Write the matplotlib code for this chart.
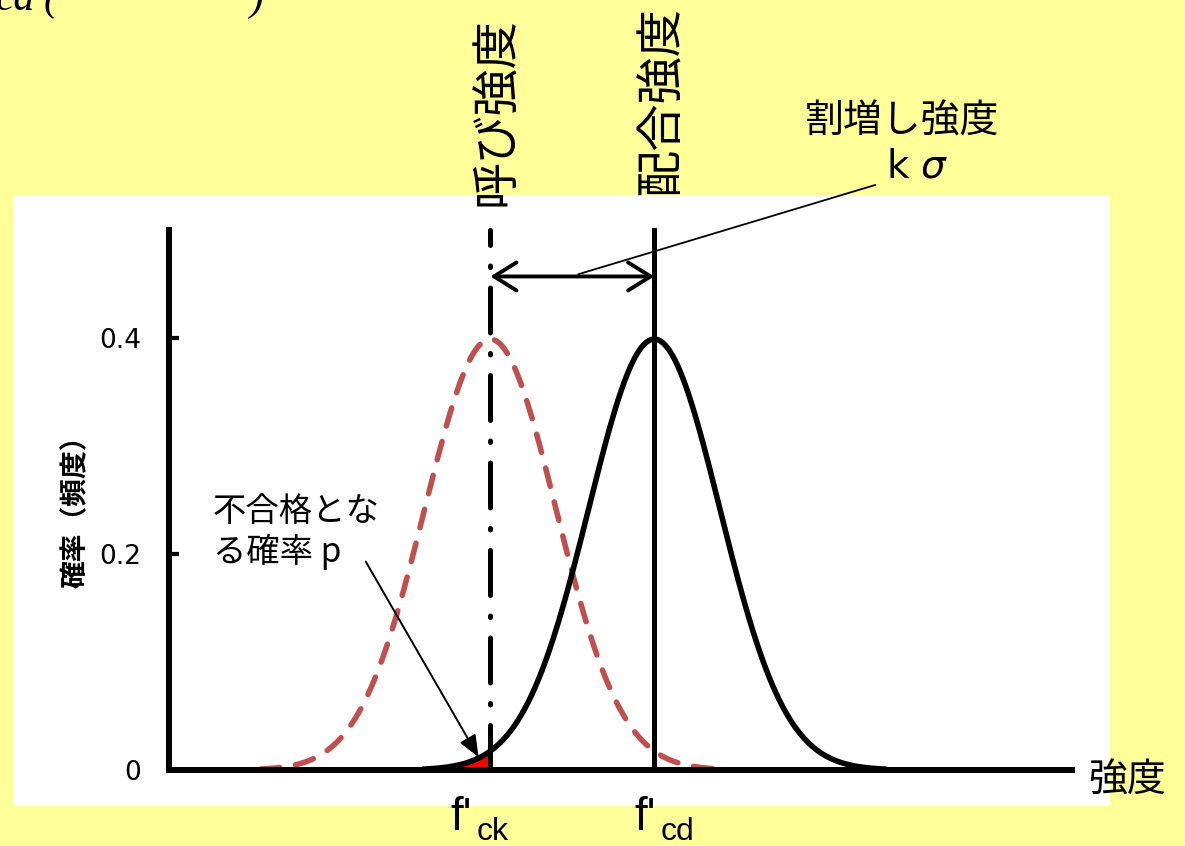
import numpy as np
import matplotlib
matplotlib.use("Agg")
import matplotlib.pyplot as plt
from matplotlib.patches import Rectangle

# ---- data ----
mean_nominal = 0.0        # 呼び強度 f'ck (in units of sigma)
k_factor = 2.5            # 割増し強度 kσ
sigma = 1.0
curve_halfwidth = 3.5     # curves drawn to ±3.5σ
y_ticks = [0.0, 0.2, 0.4]
y_tick_labels = ["0", "0.2", "0.4"]
x_limits = [-4.9, 8.87]
y_limits = [0.0, 0.5]
mean_design = mean_nominal + k_factor * sigma   # 配合強度 f'cd
arrow_level = 0.457

W, H = 1185, 846
YELLOW = "#FFFF99"
RED = "#C0504D"
JP = ["Noto Sans CJK JP", "DejaVu Sans"]
plt.rcParams["font.family"] = JP

fig = plt.figure(figsize=(W / 100, H / 100), dpi=100, facecolor=YELLOW)

def fx(px):
    return px / W

def fy(py):
    return 1 - py / H

# white panel
fig.patches.append(Rectangle((fx(13), fy(806)), fx(1110) - fx(13), fy(195) - fy(806),
                             transform=fig.transFigure, facecolor="white",
                             edgecolor="none", zorder=-10))

ax = fig.add_axes([fx(169), fy(770), fx(1072) - fx(169), fy(230) - fy(770)])
ax.set_zorder(1)
ax.patch.set_visible(False)
ax.set_xlim(*x_limits)
ax.set_ylim(*y_limits)

def pdf(x, mu):
    return np.exp(-0.5 * ((x - mu) / sigma) ** 2) / (sigma * np.sqrt(2 * np.pi))

x_red = np.linspace(mean_nominal - curve_halfwidth * sigma, mean_nominal + curve_halfwidth * sigma, 400)
x_blk = np.linspace(mean_design - curve_halfwidth * sigma, mean_design + curve_halfwidth * sigma, 400)

ax.plot(x_red, pdf(x_red, mean_nominal), color=RED, lw=4.0, ls=(0, (3.4, 2.9)),
        dash_capstyle="round", zorder=3)
ax.plot(x_blk, pdf(x_blk, mean_design), color="black", lw=4.0, zorder=4)

# failure probability region
x_fill = x_blk[x_blk <= mean_nominal]
ax.fill_between(x_fill, 0, pdf(x_fill, mean_design), color="red", lw=0, zorder=3.5)

# vertical reference lines
ax.plot([mean_nominal, mean_nominal], y_limits, color="black", lw=3.6,
        ls=(0, (9.0, 4.1, 0.3, 4.1)), dash_capstyle="round", zorder=5, clip_on=False)
ax.plot([mean_design, mean_design], y_limits, color="black", lw=3.6, zorder=5, clip_on=False)

# double arrow kσ
ax.annotate("", xy=(mean_nominal, arrow_level), xytext=(mean_design, arrow_level),
            arrowprops=dict(arrowstyle="<->,head_length=0.45,head_width=0.28",
                            lw=2.8, color="black", mutation_scale=36,
                            shrinkA=0, shrinkB=0), zorder=6)
# leader line to 割増し強度
ax.annotate("", xy=(1.34, arrow_level + 0.002), xytext=(5.87, 0.5417),
            xycoords="data", textcoords="data", annotation_clip=False,
            arrowprops=dict(arrowstyle="-", lw=1.3, color="black",
                            shrinkA=0, shrinkB=0), zorder=6)
# arrow to p
ax.annotate("", xy=(mean_nominal - 0.18, 0.012), xytext=(mean_nominal - 1.9, 0.193),
            arrowprops=dict(arrowstyle="-|>,head_length=0.6,head_width=0.25",
                            lw=1.4, color="black", mutation_scale=22,
                            shrinkA=0, shrinkB=0), zorder=6)

# spines & ticks
for s in ["top", "right"]:
    ax.spines[s].set_visible(False)
for s in ["left", "bottom"]:
    ax.spines[s].set_linewidth(4.3)
    ax.spines[s].set_zorder(7)
ax.set_xticks([])
ax.set_yticks(y_ticks)
ax.set_yticklabels(y_tick_labels, fontsize=19, family="DejaVu Sans")
ax.tick_params(axis="y", direction="in", length=7, width=3, pad=20)

# y label
fig.text(fx(76), fy(505), "確率（頻度）", rotation=90, ha="center", va="center",
         fontsize=20, fontweight="bold")

# texts
fig.text(fx(497), fy(206), "呼び強度", rotation=90, ha="center", va="bottom",
         fontsize=34, zorder=10)
fig.text(fx(662), fy(195), "配合強度", rotation=90, ha="center", va="bottom",
         fontsize=34, zorder=10)
fig.text(fx(902), fy(122), "割増し強度", ha="center", va="center", fontsize=28)
fig.text(fx(917), fy(167), r"k $\sigma$", ha="center", va="center", fontsize=28,
         family="DejaVu Sans")
fig.text(fx(213), fy(494), "不合格とな\nる確率 p", ha="left", va="top", fontsize=24,
         linespacing=1.15)
fig.text(fx(1088), fy(781), "強度", ha="left", va="center", fontsize=28)

# x labels f'ck / f'cd
for xc, sub in [(450, "ck"), (634, "cd")]:
    fig.text(fx(xc), fy(830), "f'", ha="left", va="baseline", fontsize=33,
             family="Liberation Sans")
    fig.text(fx(xc + 27), fy(840), sub, ha="left", va="baseline", fontsize=23,
             family="Liberation Sans")

# clipped title remnant at top-left
fig.text(fx(-4), fy(10), "ca", ha="left", va="baseline", fontsize=30,
         family="Liberation Serif", style="italic")
fig.text(fx(44), fy(10), "(", ha="left", va="baseline", fontsize=30,
         family="Liberation Serif", style="italic")
fig.text(fx(250), fy(10), ")", ha="left", va="baseline", fontsize=30,
         family="Liberation Serif", style="italic")

fig.savefig("out.png", dpi=100, facecolor=YELLOW)
